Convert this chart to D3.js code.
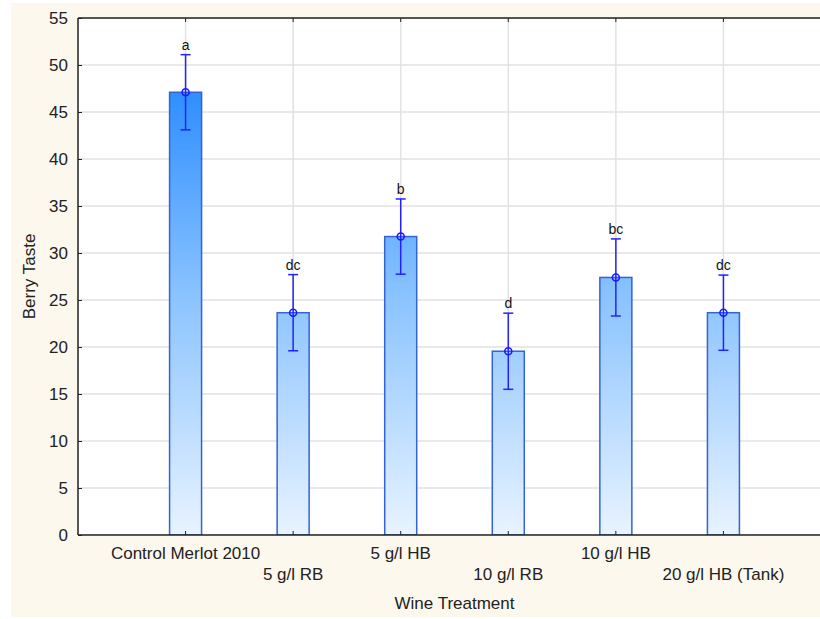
<!DOCTYPE html>
<html>
<head>
<meta charset="utf-8">
<script src="https://cdn.jsdelivr.net/npm/d3@7"></script>
<style>
  html, body { margin: 0; padding: 0; background: #ffffff; }
  svg { display: block; font-family: "Liberation Sans", Arial, sans-serif; }
</style>
</head>
<body>
<svg id="chart" width="820" height="619"></svg>
<script>
// Berry taste scores per wine treatment, with 95% CI half-widths and group letters
const categories = ["Control Merlot 2010", "5 g/l RB", "5 g/l HB", "10 g/l RB", "10 g/l HB", "20 g/l HB (Tank)"];
const means = [47.1, 23.65, 31.75, 19.55, 27.4, 23.65];
const ciHalf = [4.0, 4.05, 4.0, 4.05, 4.1, 4.0];
const groups = ["a", "dc", "b", "d", "bc", "dc"];
const yTicks = [0, 5, 10, 15, 20, 25, 30, 35, 40, 45, 50, 55];

const svg = d3.select("#chart");
const W = 820, H = 619;
const fs = 17;

// panel background
svg.append("rect").attr("x", 11).attr("y", 3).attr("width", W - 11).attr("height", 614)
  .attr("fill", "#fdf8ed");

const pLeft = 78, pTop = 18, pBottom = 535, pRight = 831;
// categories sit at positions 1..6 on a 0..7 axis
const x = d3.scaleLinear().domain([0, 7]).range([pLeft, pRight]);
const y = d3.scaleLinear().domain([0, 55]).range([pBottom, pTop]);

const defs = svg.append("defs");
const grad = defs.append("linearGradient").attr("id", "barGrad")
  .attr("gradientUnits", "userSpaceOnUse")
  .attr("x1", 0).attr("x2", 0).attr("y1", y(0)).attr("y2", y(50));
grad.append("stop").attr("offset", "0%").attr("stop-color", "#e8f3ff");
grad.append("stop").attr("offset", "50%").attr("stop-color", "#8cc4ff");
grad.append("stop").attr("offset", "100%").attr("stop-color", "#2387ff");

defs.append("clipPath").attr("id", "plotClip").append("rect")
  .attr("x", pLeft).attr("y", pTop).attr("width", pRight - pLeft).attr("height", pBottom - pTop);

// plot area
svg.append("rect").attr("x", pLeft).attr("y", pTop).attr("width", pRight - pLeft).attr("height", pBottom - pTop)
  .attr("fill", "#ffffff");

const plot = svg.append("g").attr("clip-path", "url(#plotClip)");

// gridlines
plot.append("g").selectAll("line").data(yTicks).join("line")
  .attr("x1", pLeft).attr("x2", pRight).attr("y1", d => y(d)).attr("y2", d => y(d))
  .attr("stroke", "#e2e2e2").attr("stroke-width", 1.5);
plot.append("g").selectAll("line").data(categories).join("line")
  .attr("x1", (d, i) => x(i + 1)).attr("x2", (d, i) => x(i + 1))
  .attr("y1", pTop).attr("y2", pBottom)
  .attr("stroke", "#e2e2e2").attr("stroke-width", 1.5);

// bars
const barW = 32;
plot.append("g").selectAll("rect").data(means).join("rect")
  .attr("x", (d, i) => x(i + 1) - barW / 2)
  .attr("y", d => y(d))
  .attr("width", barW)
  .attr("height", d => y(0) - y(d))
  .attr("fill", "url(#barGrad)")
  .attr("stroke", "#3463d6").attr("stroke-width", 1.5);

// axes frame
svg.append("line").attr("x1", pLeft).attr("x2", W).attr("y1", pTop).attr("y2", pTop)
  .attr("stroke", "#222").attr("stroke-width", 1.5);
svg.append("line").attr("x1", pLeft).attr("x2", W).attr("y1", pBottom).attr("y2", pBottom)
  .attr("stroke", "#222").attr("stroke-width", 1.5);
svg.append("line").attr("x1", pLeft).attr("x2", pLeft).attr("y1", pTop).attr("y2", pBottom)
  .attr("stroke", "#222").attr("stroke-width", 1.5);

// y axis
const yAxis = d3.axisLeft(y).tickValues(yTicks).tickSize(-4).tickPadding(10);
const gy = svg.append("g").attr("transform", `translate(${pLeft},0)`).call(yAxis);
gy.select(".domain").remove();
gy.selectAll(".tick line").attr("stroke", "#222");
gy.selectAll(".tick text").attr("font-size", fs).attr("fill", "#222")
  .attr("font-family", "Liberation Sans, Arial, sans-serif");

// small inward ticks on top and bottom at category positions
const catIdx = categories.map((d, i) => i + 1);
svg.append("g").selectAll("line").data(catIdx).join("line")
  .attr("x1", d => x(d)).attr("x2", d => x(d)).attr("y1", pBottom).attr("y2", pBottom - 4)
  .attr("stroke", "#222");
svg.append("g").selectAll("line").data(catIdx).join("line")
  .attr("x1", d => x(d)).attr("x2", d => x(d)).attr("y1", pTop).attr("y2", pTop + 4)
  .attr("stroke", "#222");

// category labels, staggered over two rows
svg.append("g").selectAll("text").data(categories).join("text")
  .attr("x", (d, i) => x(i + 1))
  .attr("y", (d, i) => i % 2 === 0 ? 559 : 580)
  .attr("text-anchor", "middle")
  .attr("font-size", fs).attr("fill", "#222")
  .text(d => d);

// error bars
const eb = svg.append("g");
means.forEach((m, i) => {
  const cx = x(i + 1);
  const lo = y(m - ciHalf[i]), hi = y(m + ciHalf[i]);
  eb.append("line").attr("x1", cx).attr("x2", cx).attr("y1", hi).attr("y2", lo)
    .attr("stroke", "#2222ff").attr("stroke-width", 1.5);
  [hi, lo].forEach(v => eb.append("line").attr("x1", cx - 5).attr("x2", cx + 5)
    .attr("y1", v).attr("y2", v).attr("stroke", "#2222ff").attr("stroke-width", 1.5));
  eb.append("circle").attr("cx", cx).attr("cy", y(m)).attr("r", 3.5)
    .attr("fill", "none").attr("stroke", "#1a1aff").attr("stroke-width", 1.6);
  eb.append("text").attr("x", cx).attr("y", hi - 5).attr("text-anchor", "middle")
    .attr("font-size", 14).attr("fill", "#111").text(groups[i]);
});

// axis titles
svg.append("text").attr("x", (pLeft + pRight) / 2).attr("y", 609).attr("text-anchor", "middle")
  .attr("font-size", fs).attr("fill", "#222").text("Wine Treatment");
svg.append("text").attr("transform", `translate(35,${(pTop + pBottom) / 2}) rotate(-90)`)
  .attr("text-anchor", "middle").attr("font-size", fs).attr("fill", "#222").text("Berry Taste");
</script>
</body>
</html>
